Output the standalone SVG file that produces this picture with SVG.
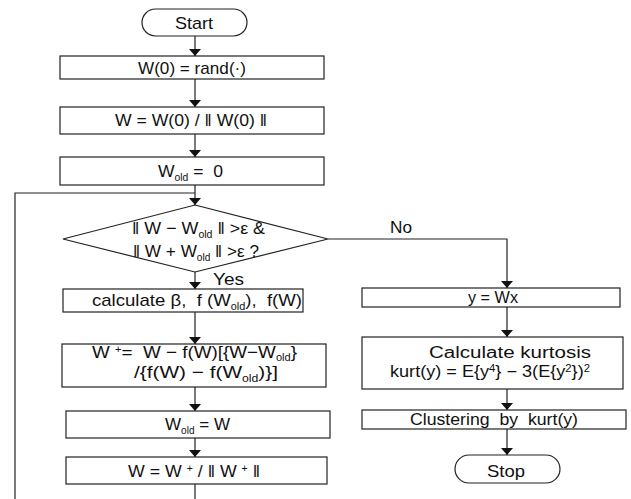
<svg xmlns="http://www.w3.org/2000/svg" width="631" height="499" viewBox="0 0 631 499">
<defs>
<style>
.b{fill:#fff;stroke:#222;stroke-width:1.2}
.c{fill:none;stroke:#222;stroke-width:1.2}
text{font-family:"Liberation Sans",Arial,sans-serif;font-size:17px;fill:#111}
.s{font-size:10px}
.k{font-size:16px}
.p{white-space:pre}
</style>
<marker id="ah" viewBox="0 0 7 12" refX="7" refY="6" markerWidth="7" markerHeight="12" markerUnits="userSpaceOnUse" orient="auto">
<path d="M0,0 L7,6 L0,12 z" fill="#111"/>
</marker>
</defs>
<rect width="631" height="499" fill="#fff"/>
<g id="connectors">
<line class="c" x1="195" y1="36" x2="195" y2="56" marker-end="url(#ah)"/>
<line class="c" x1="195" y1="79" x2="195" y2="107" marker-end="url(#ah)"/>
<line class="c" x1="195" y1="134" x2="195" y2="157" marker-end="url(#ah)"/>
<line class="c" x1="195" y1="185" x2="195" y2="205" marker-end="url(#ah)"/>
<polyline class="c" points="195,499 195,484"/>
<polyline class="c" points="15,499 15,193 195,193"/>
<line class="c" x1="195" y1="272" x2="195" y2="289" marker-end="url(#ah)"/>
<line class="c" x1="195" y1="312" x2="195" y2="344" marker-end="url(#ah)"/>
<line class="c" x1="195" y1="387" x2="195" y2="411" marker-end="url(#ah)"/>
<line class="c" x1="195" y1="438" x2="195" y2="457" marker-end="url(#ah)"/>
<polyline class="c" points="328,239 507,239 507,288" marker-end="url(#ah)"/>
<line class="c" x1="507" y1="307" x2="507" y2="337" marker-end="url(#ah)"/>
<line class="c" x1="507" y1="389" x2="507" y2="410" marker-end="url(#ah)"/>
<line class="c" x1="507" y1="429" x2="507" y2="455" marker-end="url(#ah)"/>
<text x="390" y="233" textLength="22" lengthAdjust="spacingAndGlyphs">No</text>
<text x="213" y="285" textLength="31" lengthAdjust="spacingAndGlyphs">Yes</text>
</g>
<g id="start">
<rect class="b" x="142" y="9" width="105" height="27" rx="13.5"/>
<text x="175" y="29" textLength="38" lengthAdjust="spacingAndGlyphs">Start</text>
</g>
<g id="init">
<rect class="b" x="60" y="56" width="264" height="23"/>
<text x="138" y="74" textLength="108" lengthAdjust="spacingAndGlyphs">W(0) = rand(·)</text>
</g>
<g id="normalize">
<rect class="b" x="60" y="107" width="264" height="27"/>
<text x="115" y="126" textLength="152" lengthAdjust="spacingAndGlyphs">W = W(0) / ‖ W(0) ‖</text>
</g>
<g id="wold0">
<rect class="b" x="60" y="157" width="264" height="28"/>
<text class="p" x="158" y="177" textLength="65" lengthAdjust="spacingAndGlyphs">W<tspan class="s" dy="4">old</tspan><tspan dy="-4"> =  0</tspan></text>
</g>
<g id="decision">
<polygon class="b" points="195,205 328,239 195,272 63,239"/>
<text x="132" y="234" textLength="133" lengthAdjust="spacingAndGlyphs">‖ W − W<tspan class="s" dy="4">old</tspan><tspan dy="-4"> ‖ &gt;ε &amp;</tspan></text>
<text x="133" y="257" textLength="126" lengthAdjust="spacingAndGlyphs">‖ W + W<tspan class="s" dy="4">old</tspan><tspan dy="-4"> ‖ &gt;ε ?</tspan></text>
</g>
<g id="calc">
<rect class="b" x="63" y="289" width="240" height="23"/>
<text class="p" x="92" y="306" textLength="210" lengthAdjust="spacingAndGlyphs">calculate β,  f (W<tspan class="s" dy="4">old</tspan><tspan dy="-4">),  f(W)</tspan></text>
</g>
<g id="update">
<rect class="b" x="62" y="344" width="264" height="43"/>
<text class="p" x="92" y="358" textLength="205" lengthAdjust="spacingAndGlyphs">W <tspan class="s" dy="-5">+</tspan><tspan dy="5">=  W − f(W)[{W−W</tspan><tspan class="s" dy="3">old</tspan><tspan dy="-3">}</tspan></text>
<text x="134" y="378" textLength="144" lengthAdjust="spacingAndGlyphs">/{f(W) − f(W<tspan class="s" dy="4">old</tspan><tspan dy="-4">)}]</tspan></text>
</g>
<g id="woldw">
<rect class="b" x="66" y="411" width="264" height="27"/>
<text x="165" y="430" textLength="65" lengthAdjust="spacingAndGlyphs">W<tspan class="s" dy="4">old</tspan><tspan dy="-4"> = W</tspan></text>
</g>
<g id="renorm">
<rect class="b" x="66" y="457" width="261" height="27"/>
<text x="128" y="477" textLength="132" lengthAdjust="spacingAndGlyphs">W = W <tspan class="s" dy="-5">+</tspan><tspan dy="5"> / ‖ W </tspan><tspan class="s" dy="-5">+</tspan><tspan dy="5"> ‖</tspan></text>
</g>
<g id="ywx">
<rect class="b" x="362" y="288" width="258" height="19"/>
<text x="468" y="303" textLength="50" lengthAdjust="spacingAndGlyphs">y = Wx</text>
</g>
<g id="kurt">
<rect class="b" x="362" y="337" width="261" height="52"/>
<text class="k" x="429" y="358" textLength="162" lengthAdjust="spacingAndGlyphs">Calculate kurtosis</text>
<text class="k" x="390" y="377" textLength="200" lengthAdjust="spacingAndGlyphs">kurt(y) = E{y<tspan class="s" dy="-5">4</tspan><tspan dy="5">} − 3(E{y</tspan><tspan class="s" dy="-5">2</tspan><tspan dy="5">})</tspan><tspan class="s" dy="-5">2</tspan></text>
</g>
<g id="cluster">
<rect class="b" x="362" y="410" width="264" height="19"/>
<text class="p" x="410" y="425" textLength="168" lengthAdjust="spacingAndGlyphs">Clustering  by  kurt(y)</text>
</g>
<g id="stop">
<rect class="b" x="455" y="455" width="105" height="28" rx="14"/>
<text x="487" y="477" textLength="38" lengthAdjust="spacingAndGlyphs">Stop</text>
</g>
</svg>
